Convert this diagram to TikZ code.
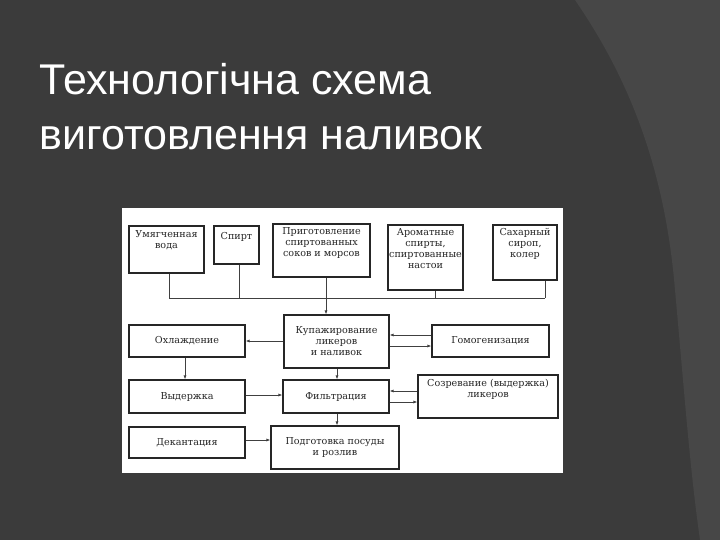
\documentclass[tikz,border=0pt]{standalone}
\usepackage{fontspec}
\setmainfont{DejaVu Serif}
\newfontfamily\titlefont{Liberation Sans}
\usetikzlibrary{arrows.meta}
\begin{document}
\begin{tikzpicture}[x=1pt,y=-1pt,
  bx/.style={draw=black!85,line width=1.1pt,fill=white,inner sep=1pt,align=center,font=\fontsize{9.6}{11}\selectfont,text=black!85},
  tx/.style={align=center,font=\fontsize{9.6}{11}\selectfont,text=black!85,inner sep=1pt},
  ln/.style={draw=black!75,line width=0.9pt},
  ar/.style={ln,-{Latex[length=4pt,width=3pt]}}]
\useasboundingbox (0,0) rectangle (720,540);
\fill[black!77] (0,0) rectangle (720,540);
\fill[black!72] (575,0) .. controls (630,80) and (665,170) .. (675,290) .. controls (685,400) and (690,470) .. (700,540) -- (720,540) -- (720,0) -- cycle;
\node[anchor=west,text=white!88,font=\titlefont\fontsize{43}{55}\selectfont,align=left] (title) at (36,107) {Технологічна схема\\виготовлення наливок};
\fill[white] (122,208) rectangle (563,473);
\node[bx,minimum width=75,minimum height=47,label={[tx,anchor=north,yshift=-4pt]north:Умягченная\\вода}] (a) at (166.5,249.5) {};
\node[bx,minimum width=45,minimum height=38,label={[tx,anchor=north,yshift=-6pt]north:Спирт}] (b) at (236.5,245) {};
\node[bx,minimum width=97,minimum height=53,label={[tx,anchor=north,yshift=-3pt]north:Приготовление\\спиртованных\\соков и морсов}] (c) at (321.5,250.5) {};
\node[bx,minimum width=75,minimum height=65,label={[tx,anchor=north,yshift=-3pt]north:Ароматные\\спирты,\\спиртованные\\настои}] (d) at (425.5,257.5) {};
\node[bx,minimum width=64,minimum height=55,label={[tx,anchor=north,yshift=-3pt]north:Сахарный\\сироп,\\колер}] (e) at (525,252.5) {};
\node[bx,minimum width=105,minimum height=53] (k) at (336.5,341.5) {Купажирование\\ликеров\\и наливок};
\node[bx,minimum width=116,minimum height=32] (o) at (187,341) {Охлаждение};
\node[bx,minimum width=117,minimum height=32] (g) at (490.5,341) {Гомогенизация};
\node[bx,minimum width=116,minimum height=33] (v) at (187,396.5) {Выдержка};
\node[bx,minimum width=106,minimum height=33] (f) at (336,396.5) {Фильтрация};
\node[bx,minimum width=140,minimum height=43,label={[tx,anchor=north,yshift=-4pt]north:Созревание (выдержка)\\ликеров}] (s) at (488,396.5) {};
\node[bx,minimum width=116,minimum height=31] (dk) at (187,442.5) {Декантация};
\node[bx,minimum width=128,minimum height=43] (p) at (335,447.5) {Подготовка посуды\\и розлив};
\coordinate (bl) at (169,298); \coordinate (br) at (545,298); \coordinate (bm) at (326,298);
\draw[ln] (bl) -- (br);
\draw[ln] (bl) -- (a.south -| bl);
\draw[ln] (239,298) -- (b.south -| 239,0);
\draw[ln] (bm) -- (c.south -| bm);
\draw[ln] (435,298) -- (d.south -| 435,0);
\draw[ln] (br) -- (e.south -| br);
\draw[ar] (bm) -- (k.north -| bm);
\draw[ar] (k.west |- 0,341) -- (o.east |- 0,341);
\draw[ar] (g.west |- 0,335) -- (k.east |- 0,335);
\draw[ar] (k.east |- 0,346) -- (g.west |- 0,346);
\draw[ar] (o.south -| 185,0) -- (v.north -| 185,0);
\draw[ar] (k.south -| 337,0) -- (f.north -| 337,0);
\draw[ar] (v.east |- 0,395) -- (f.west |- 0,395);
\draw[ar] (s.west |- 0,391) -- (f.east |- 0,391);
\draw[ar] (f.east |- 0,402) -- (s.west |- 0,402);
\draw[ar] (f.south -| 337,0) -- (p.north -| 337,0);
\draw[ar] (dk.east |- 0,440) -- (p.west |- 0,440);
\end{tikzpicture}
\end{document}
